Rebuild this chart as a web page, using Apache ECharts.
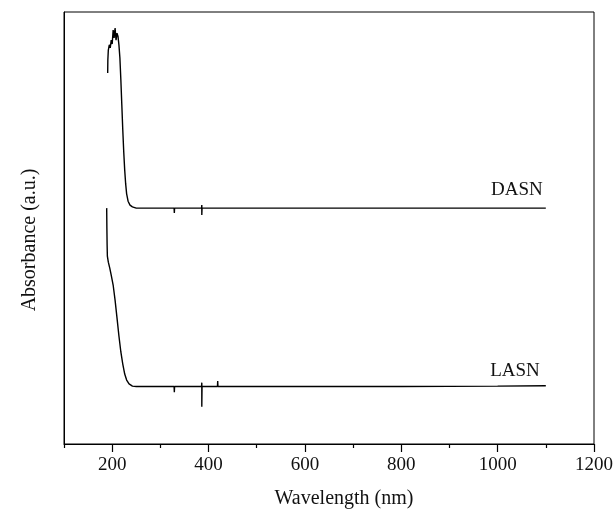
<!DOCTYPE html>
<html>
<head>
<meta charset="utf-8">
<script src="https://cdn.jsdelivr.net/npm/echarts@6/dist/echarts.min.js"></script>
<style>
  html, body { margin: 0; padding: 0; background: #fff; }
  #chart { width: 614px; height: 512px; }
</style>
</head>
<body>
<div id="chart"></div>
<script>
// wavelength (nm) / absorbance (a.u.)
const dasnX = [190.7, 191, 192, 194, 196, 198, 200, 202, 204, 206, 208, 210, 212, 214, 216, 218, 220, 222, 224, 226, 228, 230, 233, 237, 242, 250,
  328.5, 329, 329.5, 385.5, 386, 386, 386.5, 600, 800, 1000, 1100];
const dasnY = [0.859, 0.889, 0.912, 0.924, 0.917, 0.935, 0.926, 0.958, 0.940, 0.963, 0.935, 0.951, 0.944, 0.924, 0.894, 0.843, 0.785, 0.727, 0.676, 0.634, 0.602, 0.579, 0.562, 0.553, 0.549, 0.546,
  0.546, 0.535, 0.546, 0.546, 0.553, 0.530, 0.546, 0.546, 0.546, 0.546, 0.546];

const lasnX = [188.6, 189, 189.5, 190, 192, 195, 198, 202, 206, 210, 214, 218, 222, 226, 230, 235, 242, 250,
  328.5, 329, 329.5, 385.5, 386, 386, 386.5, 418.5, 419, 419.5, 600, 800, 1000, 1100];
const lasnY = [0.546, 0.500, 0.460, 0.435, 0.421, 0.407, 0.391, 0.368, 0.333, 0.292, 0.250, 0.213, 0.185, 0.162, 0.148, 0.139, 0.134, 0.133,
  0.133, 0.120, 0.133, 0.133, 0.142, 0.086, 0.133, 0.133, 0.146, 0.133, 0.133, 0.133, 0.134, 0.135];

const majorTicks = [200, 400, 600, 800, 1000, 1200];
const minorTicks = [100, 300, 500, 700, 900, 1100];
const seriesNames = ['DASN', 'LASN'];

const pairs = (xs, ys) => xs.map((x, i) => [x, ys[i]]);

const font = '"Liberation Serif", "DejaVu Serif", serif';
const chart = echarts.init(document.getElementById('chart'));

const lineSeries = (name, data) => ({
  name: name,
  type: 'line',
  data: data,
  showSymbol: false,
  symbol: 'none',
  animation: false,
  lineStyle: { color: '#000', width: 1.4 }
});

chart.setOption({
  animation: false,
  grid: {
    left: 64, right: 20, top: 12, bottom: 68,
    outerBoundsMode: 'none',
    show: true, borderColor: '#000', borderWidth: 1
  },
  xAxis: [{
    type: 'value',
    min: 100,
    max: 1200,
    name: 'Wavelength (nm)',
    nameLocation: 'middle',
    nameGap: 45,
    nameTextStyle: { fontFamily: font, fontSize: 20, color: '#111', padding: [0, 0, 0, 30] },
    axisLine: { show: true, lineStyle: { color: '#000', width: 1 } },
    axisTick: { show: true, customValues: majorTicks, length: 8, lineStyle: { color: '#000', width: 1.2 } },
    axisLabel: {
      customValues: majorTicks, fontFamily: font, fontSize: 19, color: '#111', margin: 12,
      formatter: v => String(v)
    },
    splitLine: { show: false }
  }, {
    type: 'value',
    position: 'bottom',
    min: 100,
    max: 1200,
    axisLine: { show: false },
    axisTick: { show: true, customValues: minorTicks, length: 4, lineStyle: { color: '#000', width: 1.2 } },
    axisLabel: { show: false },
    splitLine: { show: false }
  }],
  yAxis: {
    type: 'value',
    min: 0,
    max: 1,
    axisLine: { show: true, lineStyle: { color: '#000' } },
    axisTick: { show: false },
    axisLabel: { show: false },
    splitLine: { show: false }
  },
  series: [
    lineSeries(seriesNames[0], pairs(dasnX, dasnY)),
    lineSeries(seriesNames[1], pairs(lasnX, lasnY))
  ]
});

// axis title and curve names, placed through the chart's own scales
const endD = chart.convertToPixel({ gridIndex: 0 }, [dasnX[dasnX.length - 1], dasnY[dasnY.length - 1]]);
const endL = chart.convertToPixel({ gridIndex: 0 }, [lasnX[lasnX.length - 1], lasnY[lasnY.length - 1]]);

chart.setOption({
  graphic: [
    {
      type: 'text', x: 30, y: 240, rotation: Math.PI / 2,
      style: { text: 'Absorbance (a.u.)', font: '20px ' + font, fill: '#111', align: 'center', verticalAlign: 'middle' }
    },
    {
      type: 'text', x: endD[0] - 3, y: endD[1] - 9,
      style: { text: seriesNames[0], font: '19px ' + font, fill: '#111', align: 'right', verticalAlign: 'bottom' }
    },
    {
      type: 'text', x: endL[0] - 6, y: endL[1] - 5,
      style: { text: seriesNames[1], font: '19px ' + font, fill: '#111', align: 'right', verticalAlign: 'bottom' }
    }
  ]
});

window.addEventListener('resize', function () {
  chart.resize();
});
</script>
</body>
</html>
